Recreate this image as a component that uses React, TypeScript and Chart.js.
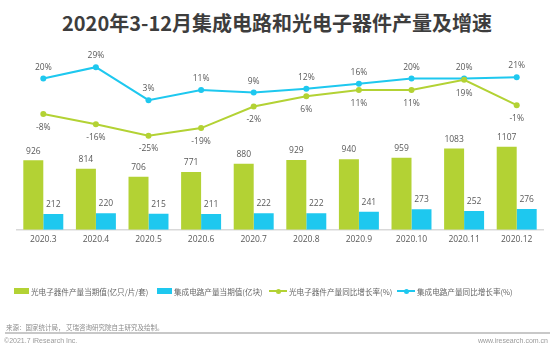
import React, { useEffect, useRef } from "react";
import { Chart, registerables } from "chart.js";

Chart.register(...registerables);

const categories = ["2020.3", "2020.4", "2020.5", "2020.6", "2020.7", "2020.8", "2020.9", "2020.10", "2020.11", "2020.12"];
const opticalOutput = [926, 814, 706, 771, 880, 929, 940, 959, 1083, 1107];
const icOutput = [212, 220, 215, 211, 222, 222, 241, 273, 252, 276];
const opticalGrowth = [-8, -16, -25, -19, -2, 6, 11, 11, 19, -1];
const icGrowth = [20, 29, 3, 11, 9, 12, 16, 20, 20, 21];

const seriesNames = [
  "光电子器件产量当期值(亿只/片/套)",
  "集成电路产量当期值(亿块)",
  "光电子器件产量同比增长率(%)",
  "集成电路产量同比增长率(%)",
];

const GREEN = "#b3d234";
const BLUE = "#1ec8ef";
const LABEL_COLOR = "#595959";
const FONT = "'Open Sans', 'Noto Sans', sans-serif";

const labelPlugin = {
  id: "valueLabels",
  afterDatasetsDraw(chart: any) {
    const ctx = chart.ctx;
    ctx.save();
    ctx.font = `8.5px ${FONT}`;
    ctx.fillStyle = LABEL_COLOR;
    ctx.textAlign = "center";
    chart.data.datasets.forEach((ds: any, di: number) => {
      const meta = chart.getDatasetMeta(di);
      meta.data.forEach((el: any, i: number) => {
        const v = ds.data[i];
        if (ds.type === "bar") {
          ctx.textBaseline = "bottom";
          ctx.fillText(String(v), el.x, el.y - 5);
        } else if (ds.labelPos === "above") {
          ctx.textBaseline = "bottom";
          ctx.fillText(v + "%", el.x, el.y - 7);
        } else {
          ctx.textBaseline = "top";
          ctx.fillText(v + "%", el.x, el.y + 9);
        }
      });
    });
    ctx.restore();
  },
};

function LegendBox({ left, color, text, line }: { left: number; color: string; text: string; line: boolean }) {
  return (
    <div style={{ position: "absolute", left, top: 284, height: 14, display: "flex", alignItems: "center", whiteSpace: "nowrap" }}>
      {line ? (
        <div style={{ position: "relative", width: 18, height: 14, marginRight: 2 }}>
          <div style={{ position: "absolute", left: 0, top: 6, width: 18, height: 2, background: color }} />
          <div style={{ position: "absolute", left: 6.5, top: 4.5, width: 5, height: 5, borderRadius: "50%", background: color }} />
        </div>
      ) : (
        <div style={{ width: 15, height: 6, background: color, marginRight: 2 }} />
      )}
      <span style={{ fontSize: 7.6, color: "#666666", fontFamily: "'Noto Sans CJK SC', sans-serif" }}>{text}</span>
    </div>
  );
}

export default function App() {
  const ref = useRef<HTMLCanvasElement | null>(null);
  useEffect(() => {
    if (!ref.current) return;
    const chart = new Chart(ref.current, {
      type: "bar",
      data: {
        labels: categories,
        datasets: [
          {
            type: "line",
            label: seriesNames[2],
            data: opticalGrowth,
            yAxisID: "y2",
            borderColor: GREEN,
            backgroundColor: GREEN,
            borderWidth: 2,
            pointRadius: 3,
            pointBackgroundColor: GREEN,
            pointBorderWidth: 0,
            tension: 0,
            order: 0,
            labelPos: "below",
          } as any,
          {
            type: "line",
            label: seriesNames[3],
            data: icGrowth,
            yAxisID: "y2",
            borderColor: BLUE,
            backgroundColor: BLUE,
            borderWidth: 2,
            pointRadius: 3,
            pointBackgroundColor: BLUE,
            pointBorderWidth: 0,
            tension: 0,
            order: 0,
            labelPos: "above",
          } as any,
          {
            type: "bar",
            label: seriesNames[0],
            data: opticalOutput,
            yAxisID: "y",
            backgroundColor: GREEN,
            categoryPercentage: 0.76,
            barPercentage: 1.0,
            order: 1,
          } as any,
          {
            type: "bar",
            label: seriesNames[1],
            data: icOutput,
            yAxisID: "y",
            backgroundColor: BLUE,
            categoryPercentage: 0.76,
            barPercentage: 1.0,
            order: 1,
          } as any,
        ],
      },
      options: {
        responsive: false,
        animation: false,
        layout: { padding: { top: 56, left: 17, right: 11, bottom: 101 } },
        plugins: { legend: { display: false }, tooltip: { enabled: false }, title: { display: false } },
        scales: {
          x: {
            grid: { display: false, drawTicks: false },
            border: { display: true, color: "#d9d9d9", width: 1.5 },
            ticks: { color: LABEL_COLOR, font: { size: 8.5, family: FONT }, padding: 5, maxRotation: 0, autoSkip: false },
          },
          y: { display: false, min: 0, max: 2317 },
          y2: { display: false, min: -99.2, max: 37.8 },
        },
      },
      plugins: [labelPlugin],
    });
    return () => chart.destroy();
  }, []);

  return (
    <div style={{ position: "absolute", left: 0, top: 0, width: 554, height: 351, background: "#fff", overflow: "hidden" }}>
      <div style={{ position: "absolute", left: 0, top: 11, width: 554, textAlign: "center", lineHeight: "24px", fontSize: 20, fontWeight: 700, color: "#3d3d3d", fontFamily: "'Noto Sans CJK SC', sans-serif" }}>
        2020年3-12月集成电路和光电子器件产量及增速
      </div>
      <canvas ref={ref} width={554} height={351} style={{ position: "absolute", left: 0, top: 0, width: 554, height: 351 }} />
      <LegendBox left={14} color={GREEN} text={seriesNames[0]} line={false} />
      <LegendBox left={157} color={BLUE} text={seriesNames[1]} line={false} />
      <LegendBox left={269} color={GREEN} text={seriesNames[2]} line={true} />
      <LegendBox left={397} color={BLUE} text={seriesNames[3]} line={true} />
      <div style={{ position: "absolute", left: 6, top: 322, fontSize: 6.5, lineHeight: "10px", color: "#8c8c8c", fontFamily: "'Noto Sans CJK SC', sans-serif", whiteSpace: "nowrap" }}>
        来源：国家统计局， 艾瑞咨询研究院自主研究及绘制。
      </div>
      <div style={{ position: "absolute", left: 5, top: 332, width: 545, height: 1.5, background: "#c8c8c8" }} />
      <div style={{ position: "absolute", left: 4, top: 336, fontSize: 7, lineHeight: "10px", color: "#9a9a9a", fontFamily: "'Liberation Sans', Arial, sans-serif", whiteSpace: "nowrap" }}>
        ©2021.7 iResearch Inc.
      </div>
      <div style={{ position: "absolute", right: 6, top: 336, fontSize: 7, lineHeight: "10px", color: "#9a9a9a", fontFamily: "'Liberation Sans', Arial, sans-serif", whiteSpace: "nowrap" }}>
        www.iresearch.com.cn
      </div>
    </div>
  );
}
